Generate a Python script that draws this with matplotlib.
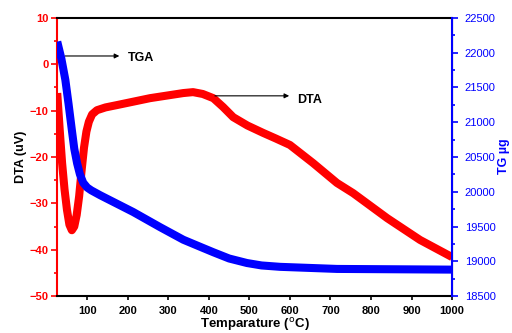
import matplotlib
matplotlib.use('Agg')
import matplotlib.pyplot as plt
from matplotlib.ticker import MultipleLocator

plt.rcParams['font.family'] = ['Liberation Sans', 'DejaVu Sans']

# DTA curve (left axis, uV)
dta_temp = [26, 32, 38, 44, 50, 56, 62, 68, 74, 80, 86, 92, 98, 104, 112, 124,
            145, 173, 255, 337, 361, 385, 411, 435, 460, 495, 534, 565, 600,
            657, 716, 756, 840, 921, 1000]
dta = [-6.2, -14.0, -21.3, -27.0, -31.4, -34.6, -35.8, -35.0, -32.5, -28.5,
       -23.0, -18.0, -14.5, -12.4, -10.8, -9.9, -9.3, -8.8, -7.3, -6.2, -6.0,
       -6.4, -7.3, -9.2, -11.4, -13.2, -14.8, -16.0, -17.4, -21.3, -25.6,
       -27.8, -33.2, -37.9, -41.6]

# TGA curve (right axis, ug)
tg_temp = [26, 36, 46, 54, 62, 68, 75, 82, 90, 100, 110, 132, 213, 280, 337,
           378, 411, 450, 494, 530, 576, 716, 1000]
tg = [22160, 21920, 21610, 21260, 20890, 20620, 20410, 20250, 20130, 20060,
      20020, 19950, 19710, 19490, 19310, 19210, 19130, 19040, 18975, 18940,
      18920, 18890, 18880]

fig = plt.figure(figsize=(5.12, 3.33), dpi=100)
ax = fig.add_axes([0.111, 0.111, 0.772, 0.835])
ax2 = ax.twinx()

ax.plot(dta_temp, dta, color='#ff0000', lw=5.8, solid_capstyle='butt',
        solid_joinstyle='round')
ax2.plot(tg_temp, tg, color='#0000ff', lw=5.8, solid_capstyle='butt',
         solid_joinstyle='round')

ax.set_xlim(25, 1000)
ax.set_ylim(-50, 10)
ax2.set_ylim(18500, 22500)

ax.yaxis.set_major_locator(MultipleLocator(10))
ax.yaxis.set_minor_locator(MultipleLocator(5))
ax2.yaxis.set_major_locator(MultipleLocator(500))
ax2.yaxis.set_minor_locator(MultipleLocator(250))

for s in ['top', 'bottom']:
    ax.spines[s].set_linewidth(1.5)
    ax.spines[s].set_color('black')
ax.spines['left'].set_color('#ff0000')
ax.spines['left'].set_linewidth(1.5)
ax2.spines['left'].set_visible(False)
ax2.spines['right'].set_color('#0000ff')
ax2.spines['right'].set_linewidth(1.5)
ax2.spines['top'].set_visible(False)
ax2.spines['bottom'].set_visible(False)

ax.tick_params(axis='x', direction='out', length=3, width=1.2, labelsize=8,
               pad=4)
ax.tick_params(axis='y', which='major', direction='out', length=4, width=1.2,
               colors='#ff0000', labelsize=8, pad=2)
ax.tick_params(axis='y', which='minor', direction='out', length=2.5,
               width=1.2, colors='#ff0000')
ax2.tick_params(axis='y', which='major', direction='out', length=4, width=1.2,
                colors='#0000ff', labelsize=8, pad=5)
ax2.tick_params(axis='y', which='minor', direction='out', length=2.5,
                width=1.2, colors='#0000ff')

for lbl in ax.get_yticklabels():
    lbl.set_fontweight('bold')

ax.set_xticks(range(100, 1001, 100))
ax.set_xticklabels([str(v) for v in range(100, 1001, 100)], fontweight='bold')

ax.set_xlabel('Temparature ($^{\\rm o}$C)', fontsize=9.5, fontweight='bold',
              labelpad=0)
ax.set_ylabel('DTA (uV)', fontsize=9, fontweight='bold', labelpad=2)
fig.text(0.972, 0.53, 'TG \u00b5g', color='#0000ff', fontsize=9,
         fontweight='bold', rotation=90, va='center', ha='left')

# arrows and labels
ax.annotate('', xy=(186, 1.8), xytext=(38, 1.8),
            arrowprops=dict(arrowstyle='-|>', color='black', lw=0.8,
                            mutation_scale=7))
ax.text(200, 1.3, 'TGA', fontsize=9, fontweight='bold', va='center')
ax.annotate('', xy=(605, -6.8), xytext=(408, -6.8),
            arrowprops=dict(arrowstyle='-|>', color='black', lw=0.8,
                            mutation_scale=7))
ax.text(618, -7.6, 'DTA', fontsize=9, fontweight='bold', va='center')

fig.savefig('out.png', dpi=100)
